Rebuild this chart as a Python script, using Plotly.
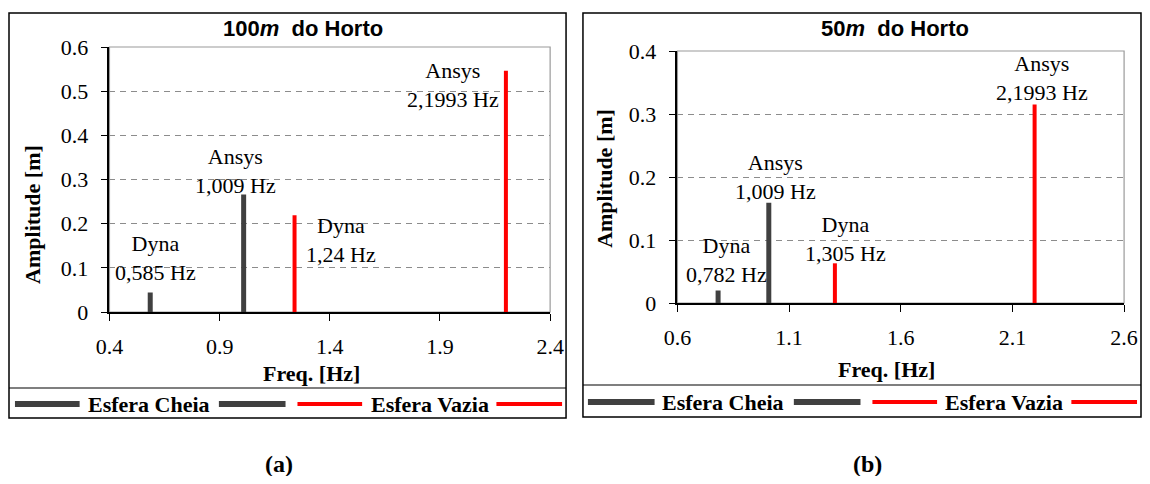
import plotly.graph_objects as go

# The page body has an 8px margin and the plot div gets the body's content
# width, so the figure is 1134x468 and reference pixel positions are mapped
# into it (tiny horizontal squeeze so the right frame stays visible).
OFF = 8
W, H = 1150 - 2 * OFF, 484 - 2 * OFF
SX = (W - 2) / (1147 - 9)

# ---------------- data ----------------
series_names = ["Esfera Cheia", "Esfera Vazia"]

# panel (a): 100 m do Horto
a_cheia_freq = [0.585, 1.009]
a_cheia_amp = [0.044, 0.266]
a_vazia_freq = [1.24, 2.1993]
a_vazia_amp = [0.219, 0.546]
a_labels = ["Dyna<br>0,585 Hz", "Ansys<br>1,009 Hz", "Dyna<br>1,24 Hz", "Ansys<br>2,1993 Hz"]

# panel (b): 50 m do Horto
b_cheia_freq = [0.782, 1.009]
b_cheia_amp = [0.020, 0.159]
b_vazia_freq = [1.305, 2.1993]
b_vazia_amp = [0.063, 0.315]
b_labels = ["Dyna<br>0,782 Hz", "Ansys<br>1,009 Hz", "Dyna<br>1,305 Hz", "Ansys<br>2,1993 Hz"]

a_xticks = [0.4, 0.9, 1.4, 1.9, 2.4]
b_xticks = [0.6, 1.1, 1.6, 2.1, 2.6]
a_yticks = [0, 0.1, 0.2, 0.3, 0.4, 0.5, 0.6]
b_yticks = [0, 0.1, 0.2, 0.3, 0.4]

panel_titles = ["100<i>m</i>&nbsp; do Horto", "50<i>m</i>&nbsp; do Horto"]
panel_tags = ["(a)", "(b)"]
x_title = "Freq. [Hz]"
y_title = "Amplitude [m]"

# ---------------- style ----------------
GRAY = "#404040"
RED = "#ff0000"
SERIF = "Liberation Serif, Times New Roman, serif"
SANS = "Liberation Sans, Arial, sans-serif"

# label pixel offsets relative to the top of each bar (x, y-up)
a_label_shift = [(5, 35), (-8, 24), (46, -25), (-53, -14)]
b_label_shift = [(8, 30), (7, 26), (11, 24), (7, 27)]


def px(x):
    return (1 + (x - 9) * SX) / W


def py(y):
    return 1 - (y - OFF) / H


def stems(xs, ys):
    sx, sy = [], []
    for x, y in zip(xs, ys):
        sx += [x, x, None]
        sy += [0, y, None]
    return sx, sy


fig = go.Figure()

panels = [
    dict(cf=a_cheia_freq, ca=a_cheia_amp, vf=a_vazia_freq, va=a_vazia_amp,
         labels=a_labels, shifts=a_label_shift, xt=a_xticks, yt=a_yticks,
         xa="x", ya="y", xdom=[px(110), px(553)], ydom=[py(312), py(47)]),
    dict(cf=b_cheia_freq, ca=b_cheia_amp, vf=b_vazia_freq, va=b_vazia_amp,
         labels=b_labels, shifts=b_label_shift, xt=b_xticks, yt=b_yticks,
         xa="x2", ya="y2", xdom=[px(681), px(1130)], ydom=[py(303), py(51)]),
]

annotations = []
shapes = []

for i, p in enumerate(panels):
    sx, sy = stems(p["cf"], p["ca"])
    fig.add_trace(go.Scatter(x=sx, y=sy, mode="lines", name=series_names[0],
                             line=dict(color=GRAY, width=5), xaxis=p["xa"], yaxis=p["ya"],
                             showlegend=False, hoverinfo="skip"))
    sx, sy = stems(p["vf"], p["va"])
    fig.add_trace(go.Scatter(x=sx, y=sy, mode="lines", name=series_names[1],
                             line=dict(color=RED, width=4), xaxis=p["xa"], yaxis=p["ya"],
                             showlegend=False, hoverinfo="skip"))

    freqs = p["cf"] + p["vf"]
    amps = p["ca"] + p["va"]
    for (f, a, lab, (dx, dy)) in zip(freqs, amps, p["labels"], p["shifts"]):
        annotations.append(dict(x=f, y=a, xref=p["xa"], yref=p["ya"], text=lab,
                                showarrow=False, xshift=dx, yshift=dy,
                                xanchor="center", yanchor="middle",
                                font=dict(family=SERIF, size=22, color="#000")))

    axis_common = dict(showline=True, linecolor="#000", linewidth=1.5,
                       ticks="outside", ticklen=7, tickwidth=1.2, tickcolor="#000",
                       tickfont=dict(family=SERIF, size=22, color="#000"),
                       zeroline=False, automargin=False)
    xkey = "xaxis" if i == 0 else "xaxis2"
    ykey = "yaxis" if i == 0 else "yaxis2"
    fig.update_layout(**{
        xkey: dict(domain=p["xdom"], range=[p["xt"][0], p["xt"][-1]],
                   tickvals=p["xt"], ticktext=[f"{v:.1f}" for v in p["xt"]],
                   showgrid=False, anchor=p["ya"], ticklabelstandoff=7, **axis_common),
        ykey: dict(domain=p["ydom"], range=[p["yt"][0], p["yt"][-1]],
                   tickvals=p["yt"], ticktext=[("0" if v == 0 else f"{v:.1f}") for v in p["yt"]],
                   showgrid=True, gridcolor="#8c8c8c", gridwidth=1, griddash="6px,5px",
                   anchor=p["xa"], ticklabelstandoff=8, **axis_common),
    })

    # light frame on top / right of plot area
    shapes.append(dict(type="rect", xref=f"{p['xa']} domain", yref=f"{p['ya']} domain",
                       x0=0, x1=1, y0=0, y1=1, line=dict(color="#9a9a9a", width=1.2),
                       layer="below"))

# ---- outer boxes, separators, titles, axis titles, legends, tags ----
boxes = [(9, 569, 13, 418, 388), (586, 1147, 13, 417, 385)]
title_pos = [(305, 29), (900, 29)]
ytitle_pos = [(32, 214), (607, 178)]
xtitle_pos = [(313, 373), (891, 369)]
tag_pos = [(280, 464), (872, 464)]
legend_y = [404, 402]
legend_items = [
    [(15, 80, 87, 212, 220, 287), (299, 364, 370, 494, 499, 565)],
    [(591, 658, 663, 791, 798, 865), (877, 942, 947, 1071, 1077, 1143)],
]

for k in range(2):
    x0, x1, y0, y1, ysep = boxes[k]
    shapes.append(dict(type="rect", xref="paper", yref="paper",
                       x0=px(x0), x1=px(x1), y0=py(y1), y1=py(y0),
                       line=dict(color="#000", width=1.5)))
    shapes.append(dict(type="line", xref="paper", yref="paper",
                       x0=px(x0), x1=px(x1), y0=py(ysep), y1=py(ysep),
                       line=dict(color="#000", width=1.2)))
    annotations.append(dict(x=px(title_pos[k][0]), y=py(title_pos[k][1]), xref="paper", yref="paper",
                            text=f"<b>{panel_titles[k]}</b>", showarrow=False,
                            xanchor="center", yanchor="middle",
                            font=dict(family=SANS, size=22, color="#000")))
    annotations.append(dict(x=px(ytitle_pos[k][0]), y=py(ytitle_pos[k][1]), xref="paper", yref="paper",
                            text=f"<b>{y_title}</b>", showarrow=False, textangle=-90,
                            xanchor="center", yanchor="middle",
                            font=dict(family=SERIF, size=22, color="#000")))
    annotations.append(dict(x=px(xtitle_pos[k][0]), y=py(xtitle_pos[k][1]), xref="paper", yref="paper",
                            text=f"<b>{x_title}</b>", showarrow=False,
                            xanchor="center", yanchor="middle",
                            font=dict(family=SERIF, size=22, color="#000")))
    annotations.append(dict(x=px(tag_pos[k][0]), y=py(tag_pos[k][1]), xref="paper", yref="paper",
                            text=f"<b>{panel_tags[k]}</b>", showarrow=False,
                            xanchor="center", yanchor="middle",
                            font=dict(family=SERIF, size=24, color="#000")))
    ly = legend_y[k]
    for s, (la0, la1, t0, t1, lb0, lb1) in enumerate(legend_items[k]):
        col = GRAY if s == 0 else RED
        wdt = 6 if s == 0 else 4
        for (u0, u1) in [(la0, la1), (lb0, lb1)]:
            shapes.append(dict(type="line", xref="paper", yref="paper",
                               x0=px(u0), x1=px(u1), y0=py(ly), y1=py(ly),
                               line=dict(color=col, width=wdt)))
        annotations.append(dict(x=px((t0 + t1) / 2), y=py(ly), xref="paper", yref="paper",
                                text=f"<b>{series_names[s]}</b>", showarrow=False,
                                xanchor="center", yanchor="middle",
                                font=dict(family=SERIF, size=22, color="#000")))

fig.update_layout(width=W, height=H, autosize=False,
                  margin=dict(l=0, r=0, t=0, b=0, pad=0, autoexpand=False),
                  paper_bgcolor="white", plot_bgcolor="white",
                  showlegend=False, annotations=annotations, shapes=shapes)

fig.write_html("out.html")
